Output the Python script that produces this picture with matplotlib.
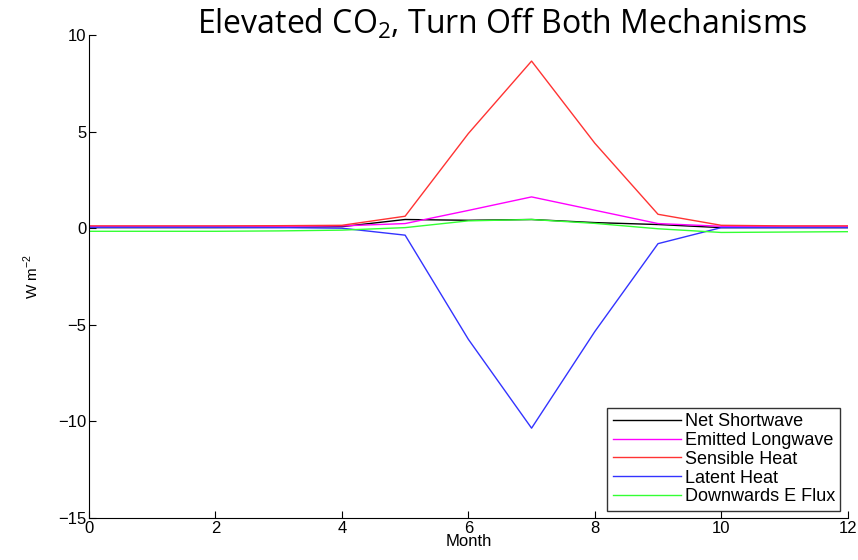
import matplotlib
matplotlib.use("Agg")
import matplotlib.pyplot as plt

months = list(range(13))
net_shortwave = [0.03, 0.03, 0.03, 0.04, 0.08, 0.45, 0.41, 0.45, 0.29, 0.19, 0.03, 0.03, 0.03]
emitted_longwave = [0.1, 0.1, 0.1, 0.1, 0.12, 0.24, 0.92, 1.62, 0.93, 0.24, 0.1, 0.1, 0.1]
sensible_heat = [0.12, 0.12, 0.12, 0.13, 0.15, 0.62, 4.9, 8.65, 4.4, 0.72, 0.15, 0.12, 0.12]
latent_heat = [0.04, 0.04, 0.04, 0.03, 0.0, -0.36, -5.75, -10.35, -5.35, -0.8, 0.03, 0.03, 0.03]
downwards_e_flux = [-0.16, -0.16, -0.16, -0.14, -0.1, 0.03, 0.38, 0.45, 0.25, -0.03, -0.22, -0.2, -0.18]

plt.rcParams['font.family'] = ['Liberation Sans', 'DejaVu Sans']
plt.rcParams['mathtext.fontset'] = 'custom'
plt.rcParams['mathtext.rm'] = 'Liberation Sans'

fig = plt.figure(figsize=(8.58, 5.6), dpi=100)
ax = fig.add_axes([0.1037, 0.075, 0.8843, 0.8625])

ax.plot(months, net_shortwave, color='black', lw=1, label='Net Shortwave')
ax.plot(months, emitted_longwave, color='#ff00ff', lw=1, label='Emitted Longwave')
ax.plot(months, sensible_heat, color='#ff3333', lw=1, label='Sensible Heat')
ax.plot(months, latent_heat, color='#3333ff', lw=1, label='Latent Heat')
ax.plot(months, downwards_e_flux, color='#33ff33', lw=1, label='Downwards E Flux')

ax.set_xlim(0, 12)
ax.set_ylim(-15, 10)
ax.set_xticks(range(0, 13, 2))
ax.set_yticks(range(-15, 11, 5))
ax.spines['top'].set_visible(False)
ax.spines['right'].set_visible(False)
ax.tick_params(direction='in', length=5, labelsize=12, pad=2)
ax.set_xlabel('Month', fontsize=12, labelpad=-1)
ax.set_ylabel('W m$^{-2}$', fontsize=11, labelpad=12)

leg = ax.legend(loc='lower right', fontsize=13, frameon=True, fancybox=False,
                handlelength=3.8, borderpad=0.3, labelspacing=0.1, handletextpad=0.2,
                borderaxespad=0.4)
leg.get_frame().set_edgecolor('black')
leg.get_frame().set_linewidth(1)

fig.text(0.585, 0.958, 'Elevated CO$_\\mathregular{2}$, Turn Off Both Mechanisms', fontsize=23,
         ha='center', va='center', family='Open Sans', math_fontfamily='custom')

fig.savefig('out.png', dpi=100)
